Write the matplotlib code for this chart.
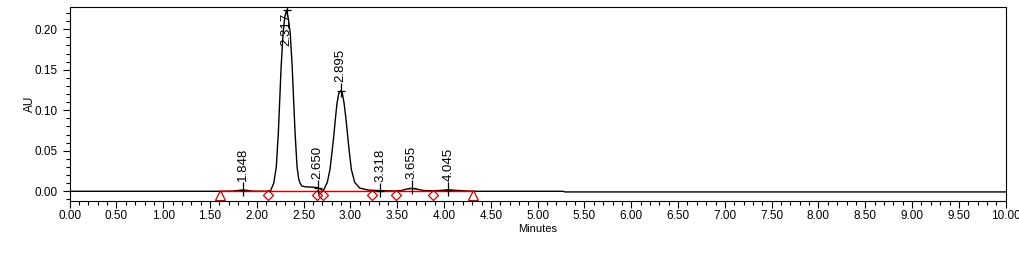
import matplotlib
matplotlib.use("Agg")
import matplotlib.pyplot as plt
import matplotlib.transforms as mtransforms
from matplotlib.ticker import MultipleLocator, FormatStrFormatter

# ---- data ----
trace_time = [0.00, 1.60, 1.75, 1.80, 1.848, 1.90, 1.95, 2.10,
              2.145, 2.180, 2.207, 2.229, 2.244, 2.259, 2.280, 2.299, 2.317,
              2.336, 2.356, 2.377, 2.392, 2.408, 2.429, 2.447, 2.462, 2.48,
              2.52, 2.60, 2.65, 2.675, 2.70, 2.717, 2.752, 2.781, 2.802,
              2.821, 2.838, 2.856, 2.875, 2.895, 2.913, 2.931, 2.952, 2.970,
              2.988, 3.009, 3.045, 3.098, 3.187, 3.318, 3.48, 3.55, 3.60,
              3.655, 3.70, 3.78, 3.88, 3.95, 4.045, 4.12, 4.25, 4.35, 5.27,
              5.29, 10.0]
trace_au = [0.000, 0.000, 0.0003, 0.0010, 0.0015, 0.0010, 0.0002, 0.000,
            0.0005, 0.010, 0.030, 0.072, 0.113, 0.154, 0.195, 0.216, 0.2235,
            0.213, 0.195, 0.154, 0.113, 0.072, 0.030, 0.015, 0.010, 0.0065,
            0.0055, 0.0050, 0.0045, 0.0030, 0.0010, 0.0025, 0.011, 0.027, 0.048,
            0.068, 0.089, 0.109, 0.121, 0.124, 0.121, 0.109, 0.089, 0.068,
            0.048, 0.027, 0.011, 0.004, 0.0015, 0.0008, 0.0003, 0.0010, 0.0028,
            0.0035, 0.0028, 0.0010, 0.0005, 0.0010, 0.0018, 0.0012, 0.0003, 0.0, 0.0,
            -0.0008, -0.0008]

peak_rt = [1.848, 2.317, 2.650, 2.895, 3.318, 3.655, 4.045]
peak_height = [0.0015, 0.2235, 0.0045, 0.124, 0.0008, 0.0035, 0.0018]
peak_labels = ["1.848", "2.317", "2.650", "2.895", "3.318", "3.655", "4.045"]

baseline_start_end = [1.606, 4.312]
baseline_drops = [2.115, 2.639, 2.703, 3.233, 3.483, 3.878]

x_limits = (0.0, 10.0)
y_limits = (-0.012, 0.2275)

RED = "#cc0000"
FONT = ["Liberation Sans", "DejaVu Sans"]
plt.rcParams["font.family"] = FONT

fig = plt.figure(figsize=(10.2, 2.6), dpi=100)
ax = fig.add_axes([69.7 / 1020, 1 - 201 / 260, (1005.7 - 69.7) / 1020, (201 - 7) / 260])

ax.plot(trace_time, trace_au, color="black", lw=1.0, zorder=2)

# integration baseline
ax.plot([baseline_start_end[0], baseline_start_end[1]], [0, 0], color=RED, lw=1.0, zorder=3)
mark_tr = mtransforms.offset_copy(ax.transData, fig=fig, y=-4, units="dots")
ax.plot(baseline_start_end, [0] * len(baseline_start_end), ls="none", marker="^",
        ms=7.5, mfc="none", mec=RED, mew=0.9, transform=mark_tr, zorder=4, clip_on=False)
ax.plot(baseline_drops, [0] * len(baseline_drops), ls="none", marker="D",
        ms=5.5, mfc="none", mec=RED, mew=0.9, transform=mark_tr, zorder=4, clip_on=False)

# peak apex marks and labels
for rt, h, lab in zip(peak_rt, peak_height, peak_labels):
    ax.plot([rt], [h], ls="none", marker="|", ms=10, mec="black", mew=0.9, zorder=5,
            transform=mtransforms.offset_copy(ax.transData, fig=fig, y=1, units="dots"))
    ax.plot([rt], [h], ls="none", marker="_", ms=6, mec="black", mew=0.9, zorder=5)
    if h > 0.17:
        ax.text(rt, y_limits[1], lab, rotation=90, ha="center", va="top", fontsize=9.5,
                transform=mtransforms.offset_copy(ax.transData, fig=fig, y=-6, units="dots"))
    else:
        ax.text(rt, h, lab, rotation=90, ha="center", va="bottom", fontsize=9.5,
                transform=mtransforms.offset_copy(ax.transData, fig=fig, y=9, units="dots"))

ax.set_xlim(*x_limits)
ax.set_ylim(*y_limits)
ax.xaxis.set_major_locator(MultipleLocator(0.5))
ax.xaxis.set_minor_locator(MultipleLocator(0.1))
ax.yaxis.set_major_locator(MultipleLocator(0.05))
ax.yaxis.set_minor_locator(MultipleLocator(0.01))
ax.xaxis.set_major_formatter(FormatStrFormatter("%.2f"))
ax.yaxis.set_major_formatter(FormatStrFormatter("%.2f"))
ax.tick_params(axis="both", which="major", length=5, width=0.8, labelsize=8.5, direction="out")
ax.tick_params(axis="both", which="minor", length=3, width=0.8, direction="out")
ax.tick_params(axis="x", which="major", pad=1.5)
for s in ax.spines.values():
    s.set_linewidth(0.8)

ax.set_xlabel("Minutes", fontsize=8)
ax.set_ylabel("AU", fontsize=8.5)
ax.xaxis.set_label_coords(0.5, -0.12)
ax.yaxis.set_label_coords(-0.036, 0.5)

fig.savefig("out.png", dpi=100, facecolor="white")
